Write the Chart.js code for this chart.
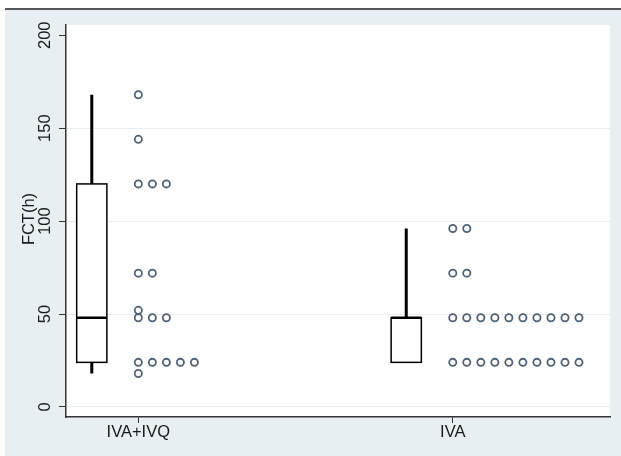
<!DOCTYPE html>
<html lang="en">
<head>
  <meta charset="UTF-8" />
  <title>FCT(h) by group</title>
  <script src="https://cdn.jsdelivr.net/npm/chart.js"></script>
  <style>
    body {
      margin: 0;
      background: #ffffff;
    }

    .wrap {
      width: 621px;
      height: 456px;
      position: relative;
    }
  </style>
</head>
<body>
  <div class="wrap">
    <canvas id="fctChart"></canvas>
  </div>

  <script>
    // --- Data
    const categories = ['IVA+IVQ', 'IVA'];
    const fctIvaIvq = [168, 144, 120, 120, 120, 72, 72, 52, 48, 48, 48, 24, 24, 24, 24, 24, 18];
    const fctIva = [96, 96, 72, 72,
      48, 48, 48, 48, 48, 48, 48, 48, 48, 48,
      24, 24, 24, 24, 24, 24, 24, 24, 24, 24];

    // box plot summary for each group
    const boxMin = [18, 24];
    const boxQ1 = [24, 24];
    const boxMed = [48, 48];
    const boxQ3 = [120, 48];
    const boxMax = [168, 96];

    const yTicks = [0, 50, 100, 150, 200];
    const yTitle = 'FCT(h)';

    // layout constants (x in category units)
    const dotStep = 0.0446;
    const boxOffset = -0.148;
    const boxHalf = 0.048;
    const bgColor = '#e7eff2';
    const textColor = '#1a1a1a';
    const dotColor = '#4e6378';
    const fontFamily = "'Liberation Sans', Arial, sans-serif";
    const fontSize = 16.5;

    // stack identical values side by side, like a dot plot
    function dotPoints(values, pos) {
      const seen = {};
      return values.map(v => {
        const k = seen[v] || 0;
        seen[v] = k + 1;
        return { x: pos + k * dotStep, y: v };
      });
    }

    const backdrop = {
      id: 'backdrop',
      beforeDraw(chart) {
        const { ctx, chartArea: a } = chart;
        ctx.save();
        ctx.fillStyle = '#ffffff';
        ctx.fillRect(0, 0, chart.width, chart.height);
        ctx.fillStyle = bgColor;
        ctx.fillRect(5, 10, chart.width - 5, chart.height - 10);
        ctx.strokeStyle = '#555555';
        ctx.lineWidth = 2;
        ctx.beginPath();
        ctx.moveTo(5, 9);
        ctx.lineTo(chart.width, 9);
        ctx.stroke();
        ctx.fillStyle = '#ffffff';
        ctx.fillRect(a.left, a.top, a.right - a.left, a.bottom - a.top);
        ctx.restore();
      }
    };

    const boxes = {
      id: 'boxes',
      afterDatasetsDraw(chart) {
        const { ctx } = chart;
        const xs = chart.scales.x, ys = chart.scales.y;
        ctx.save();
        ctx.strokeStyle = '#000000';
        categories.forEach((c, i) => {
          const pos = i + 1 + boxOffset;
          const cx = xs.getPixelForValue(pos);
          const l = xs.getPixelForValue(pos - boxHalf);
          const r = xs.getPixelForValue(pos + boxHalf);
          const q1 = ys.getPixelForValue(boxQ1[i]);
          const q3 = ys.getPixelForValue(boxQ3[i]);
          const md = ys.getPixelForValue(boxMed[i]);
          const lo = ys.getPixelForValue(boxMin[i]);
          const hi = ys.getPixelForValue(boxMax[i]);

          // whiskers
          ctx.lineWidth = 3;
          ctx.beginPath();
          ctx.moveTo(cx, hi); ctx.lineTo(cx, q3);
          ctx.moveTo(cx, q1); ctx.lineTo(cx, lo);
          ctx.stroke();

          // box
          ctx.lineWidth = 1.5;
          ctx.fillStyle = '#ffffff';
          ctx.fillRect(l, q3, r - l, q1 - q3);
          ctx.strokeRect(l, q3, r - l, q1 - q3);

          // median
          ctx.lineWidth = 2.5;
          ctx.beginPath();
          ctx.moveTo(l, md); ctx.lineTo(r, md);
          ctx.stroke();
        });
        ctx.restore();
      }
    };

    // rotated y tick labels and title, placed from the y scale
    const yLabels = {
      id: 'yLabels',
      afterDraw(chart) {
        const { ctx, chartArea: a } = chart;
        const ys = chart.scales.y;
        ctx.save();
        ctx.fillStyle = textColor;
        ctx.font = fontSize + 'px ' + fontFamily;
        ctx.textAlign = 'center';
        ctx.textBaseline = 'middle';
        yTicks.forEach(t => {
          ctx.save();
          ctx.translate(45, ys.getPixelForValue(t));
          ctx.rotate(-Math.PI / 2);
          ctx.fillText(String(t), 0, 0);
          ctx.restore();
        });
        ctx.translate(29, (a.top + a.bottom) / 2 - 2);
        ctx.rotate(-Math.PI / 2);
        ctx.fillText(yTitle, 0, 0);
        ctx.restore();
      }
    };

    const ctx = document.getElementById('fctChart').getContext('2d');
    new Chart(ctx, {
      type: 'scatter',
      data: {
        datasets: [
          { label: categories[0], data: dotPoints(fctIvaIvq, 1) },
          { label: categories[1], data: dotPoints(fctIva, 2) }
        ]
      },
      options: {
        responsive: true,
        maintainAspectRatio: false,
        animation: false,
        layout: { padding: { left: 0, right: 11, top: 25, bottom: 0 } },
        elements: {
          point: {
            radius: 3.6,
            borderWidth: 1.8,
            borderColor: dotColor,
            backgroundColor: 'rgba(0,0,0,0)',
            pointStyle: 'circle'
          }
        },
        plugins: {
          legend: { display: false },
          tooltip: { enabled: false }
        },
        scales: {
          x: {
            type: 'linear',
            min: 0.77,
            max: 2.5,
            afterBuildTicks: s => { s.ticks = categories.map((c, i) => ({ value: i + 1 })); },
            afterFit: s => { s.height = 39; },
            ticks: {
              color: textColor,
              font: { size: fontSize, family: fontFamily },
              padding: 0,
              maxRotation: 0,
              callback: v => categories[v - 1]
            },
            grid: {
              drawOnChartArea: false,
              drawTicks: true,
              tickLength: 6,
              tickColor: '#333333'
            },
            border: { display: true, color: '#333333', width: 1.5 }
          },
          y: {
            min: -5.4,
            max: 205.5,
            afterBuildTicks: s => { s.ticks = yTicks.map(v => ({ value: v })); },
            afterFit: s => { s.width = 66; },
            ticks: { display: false },
            grid: {
              drawTicks: true,
              tickLength: 7,
              tickColor: '#333333',
              lineWidth: 1,
              color: c => (c.tick && c.tick.value === 200) ? 'rgba(0,0,0,0)' : '#e6eef1'
            },
            border: { display: true, color: '#333333', width: 1.5 }
          }
        }
      },
      plugins: [backdrop, boxes, yLabels]
    });
  </script>
</body>
</html>
